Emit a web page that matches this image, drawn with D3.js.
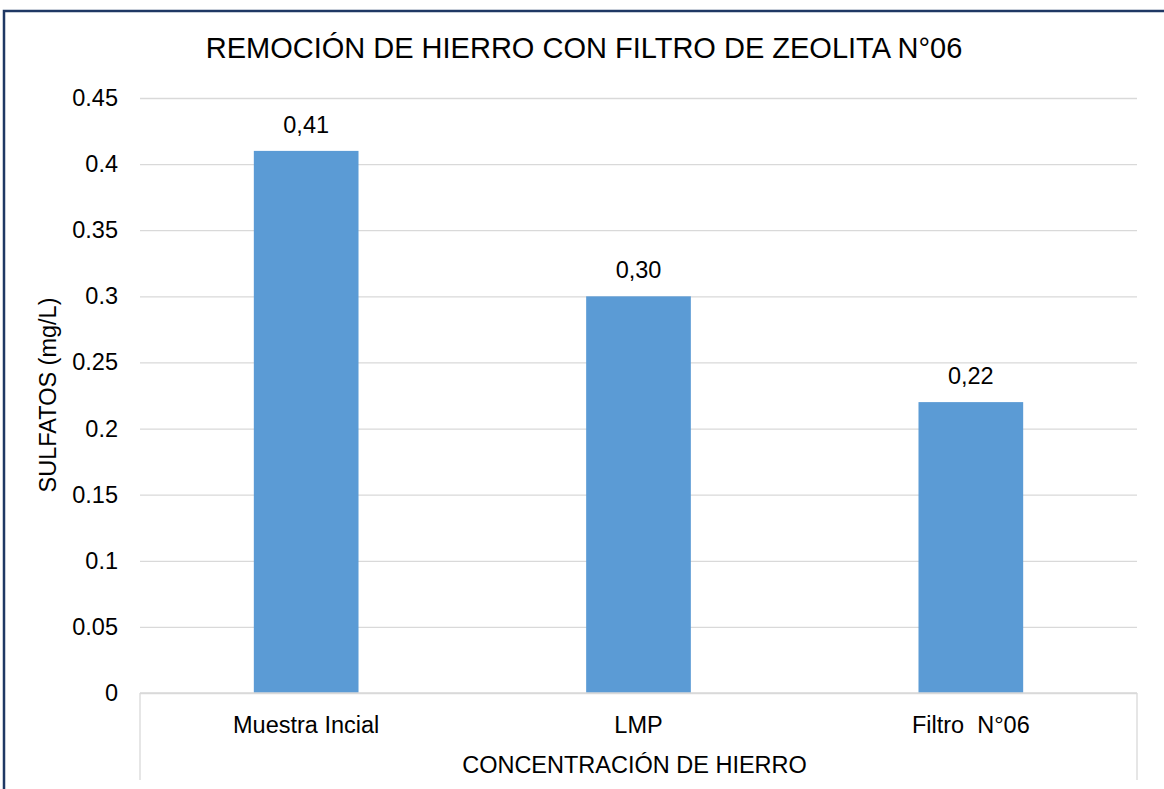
<!DOCTYPE html>
<html>
<head>
<meta charset="utf-8">
<script src="https://cdn.jsdelivr.net/npm/d3@7"></script>
<style>
  body { margin: 0; background: #fff; }
  svg { display: block; font-family: Arial, 'Liberation Sans', sans-serif; }
</style>
</head>
<body>
<svg id="chart"></svg>
<script>
// chart data
const categories = ['Muestra Incial', 'LMP', 'Filtro  N°06'];
const values = [0.41, 0.30, 0.22];
const yTicks = [0, 0.05, 0.1, 0.15, 0.2, 0.25, 0.3, 0.35, 0.4, 0.45];
const chartTitle = 'REMOCIÓN DE HIERRO CON FILTRO DE ZEOLITA N°06';
const xTitle = 'CONCENTRACIÓN DE HIERRO';
const yTitle = 'SULFATOS (mg/L)';

const width = 1164, height = 789;
const margin = { top: 98, right: 27, bottom: 96, left: 140 };
const plotW = width - margin.left - margin.right;
const plotH = height - margin.top - margin.bottom;
const fs = '23.5px';

const svg = d3.select('#chart')
  .attr('width', width)
  .attr('height', height);

svg.append('rect')
  .attr('width', width)
  .attr('height', height)
  .attr('fill', '#fff');

// outer frame (only top and left visible)
svg.append('rect')
  .attr('x', 4)
  .attr('y', 11)
  .attr('width', width + 20)
  .attr('height', height + 20)
  .attr('fill', 'none')
  .attr('stroke', '#1F3864')
  .attr('stroke-width', 2.5);

const g = svg.append('g')
  .attr('transform', `translate(${margin.left},${margin.top})`);

const x = d3.scaleBand()
  .domain(categories)
  .range([0, plotW])
  .paddingInner(0.685)
  .paddingOuter(0.3425);

const y = d3.scaleLinear()
  .domain([0, 0.45])
  .range([plotH, 0]);

// gridlines + y labels
const yAxis = g.append('g')
  .call(d3.axisLeft(y)
    .tickValues(yTicks)
    .tickSize(-plotW)
    .tickPadding(22)
    .tickFormat(d => String(+d.toFixed(2))));
yAxis.select('.domain').remove();
yAxis.selectAll('line').attr('stroke', '#d9d9d9').attr('stroke-width', 1.3);
yAxis.selectAll('text')
  .attr('fill', '#000')
  .style('font-size', fs)
  .style('font-family', 'Arial, Liberation Sans, sans-serif');

// bars
g.selectAll('.bar')
  .data(values)
  .enter()
  .append('rect')
  .attr('class', 'bar')
  .attr('x', (d, i) => x(categories[i]))
  .attr('y', d => y(d))
  .attr('width', x.bandwidth())
  .attr('height', d => plotH - y(d))
  .attr('fill', '#5B9BD5');

// value labels
g.selectAll('.val')
  .data(values)
  .enter()
  .append('text')
  .attr('class', 'val')
  .attr('x', (d, i) => x(categories[i]) + x.bandwidth() / 2)
  .attr('y', d => y(d) - 18)
  .attr('text-anchor', 'middle')
  .style('font-size', fs)
  .text(d => d3.format('.2f')(d).replace('.', ','));

// x axis
const xAxis = g.append('g')
  .attr('transform', `translate(0,${plotH})`)
  .call(d3.axisBottom(x).tickSize(0).tickPadding(23));
xAxis.select('.domain').remove();
xAxis.selectAll('text')
  .attr('fill', '#000')
  .style('font-size', fs)
  .style('font-family', 'Arial, Liberation Sans, sans-serif')
  .style('white-space', 'pre');

// base line and outer category separators
g.append('line')
  .attr('x1', 0).attr('x2', plotW)
  .attr('y1', plotH).attr('y2', plotH)
  .attr('stroke', '#d9d9d9').attr('stroke-width', 1.3);
[0, plotW].forEach(px => {
  g.append('line')
    .attr('x1', px).attr('x2', px)
    .attr('y1', plotH).attr('y2', plotH + 87)
    .attr('stroke', '#d9d9d9').attr('stroke-width', 1.3);
});

// titles
svg.append('text')
  .attr('x', 584)
  .attr('y', 58)
  .attr('text-anchor', 'middle')
  .style('font-size', '29px')
  .text(chartTitle);

svg.append('text')
  .attr('x', margin.left + plotW / 2 - 4)
  .attr('y', 773)
  .attr('text-anchor', 'middle')
  .style('font-size', fs)
  .text(xTitle);

svg.append('text')
  .attr('transform', 'translate(56,395) rotate(-90)')
  .attr('text-anchor', 'middle')
  .style('font-size', fs)
  .text(yTitle);
</script>
</body>
</html>
